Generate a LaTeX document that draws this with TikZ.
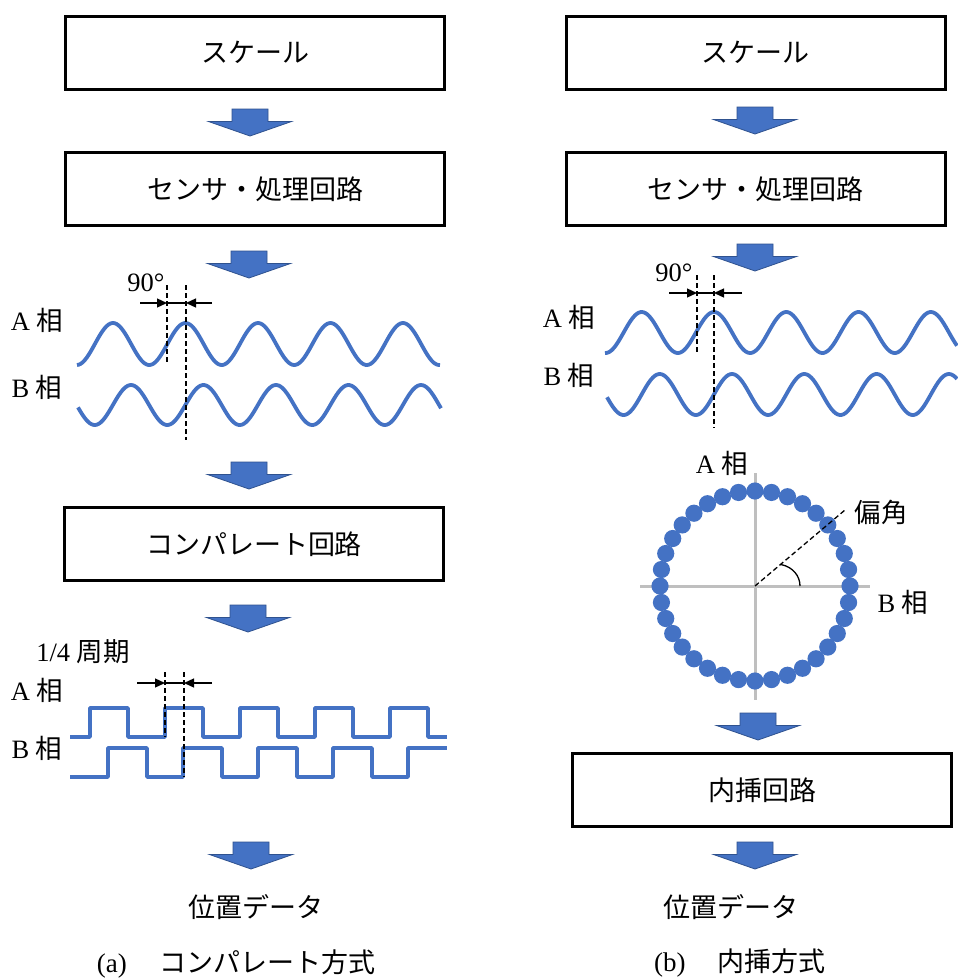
\documentclass[tikz,border=0pt]{standalone}
\usepackage{fontspec}
\setmainfont{Liberation Serif}
\newfontfamily\jp{Noto Sans CJK JP}
\usetikzlibrary{arrows.meta}
\definecolor{wblue}{RGB}{68,114,196}
\definecolor{wdark}{RGB}{47,82,143}
\definecolor{axgray}{RGB}{191,191,191}
\newcommand\barrow[3]{% name, cx, top
  \fill[wblue, draw=wdark, line width=0.8] ({#2-18},{#3}) -- ({#2+18},{#3}) -- ({#2+18},{#3+12.5}) -- ({#2+41.5},{#3+12.5}) -- ({#2},{#3+27}) -- ({#2-41.5},{#3+12.5}) -- ({#2-18},{#3+12.5}) -- cycle;
  \coordinate (#1) at ({#2},{#3});}
\begin{document}
\begin{tikzpicture}[x=1pt,y=-1pt,
  box/.style={draw, line width=3, minimum width=379, minimum height=73, inner sep=0, font=\fontsize{27}{30}\selectfont\jp},
  lbl/.style={inner sep=0, font=\fontsize{26.5}{28}\selectfont},
  jtxt/.style={inner sep=0, font=\fontsize{27}{30}\selectfont\jp},
  wave/.style={wblue, line width=3.8, line join=round},
  dsh/.style={line width=1.3, dash pattern=on 5 off 3},
  dim/.style={line width=1.3, -{Triangle[length=10,width=9]}}]
\useasboundingbox (0,0) rectangle (958,978);
\fill[white] (0,0) rectangle (958,978);

% ---------------- left column ----------------
\node[box] (L1) at (255,52.5) {スケール};
\barrow{aL1}{250}{109}
\node[box] (L2) at (255,189) {センサ・処理回路};
\barrow{aL2}{249}{251}

\node[lbl] (LA) at (37,320) {A {\jp 相}};
\node[lbl] (LB) at (37,387) {B {\jp 相}};
\node[lbl] (L90) at (146,283) {90°};
\draw[wave] plot[domain=77:440, samples=220] (\x, {344-21*cos((\x-113)/72.5*360)});
\draw[wave] plot[domain=78:441, samples=220] (\x, {405-20*cos((\x-131)/72.5*360)});
\draw[dsh] (167,285) -- (167,363);
\draw[dsh] (186,285) -- (186,440);
\coordinate (d1a) at (140,303); \coordinate (d1b) at (167,303);
\coordinate (d1c) at (186,303); \coordinate (d1d) at (212,303);
\draw[dim] (d1a) -- (d1b);
\draw[dim] (d1d) -- (d1c);
\draw[line width=1.3] (d1b) -- (d1c);

\barrow{aL3}{249}{462}
\node[box] (L3) at (254,544) {コンパレート回路};
\barrow{aL4}{248}{605}

\node[lbl] (Lq) at (83,652) {1/4 {\jp 周期}};
\node[lbl] (LA2) at (37,690) {A {\jp 相}};
\node[lbl] (LB2) at (37,748) {B {\jp 相}};
\draw[wave] (70,737)
  \foreach \k in {0,...,4} { -- ({90+75*\k},737) -- ({90+75*\k},708) -- ({128+75*\k},708) -- ({128+75*\k},737) }
  -- (447,737);
\draw[wave] (70,777)
  \foreach \k in {0,...,3} { -- ({108+75*\k},777) -- ({108+75*\k},748) -- ({147+75*\k},748) -- ({147+75*\k},777) }
  -- (408,777) -- (408,748) -- (447,748);
\draw[dsh] (165,672) -- (165,737);
\draw[dsh] (184,672) -- (184,777);
\coordinate (d2a) at (137,683); \coordinate (d2b) at (165,683);
\coordinate (d2c) at (184,683); \coordinate (d2d) at (212,683);
\draw[dim] (d2a) -- (d2b);
\draw[dim] (d2d) -- (d2c);
\draw[line width=1.3] (d2b) -- (d2c);

\barrow{aL5}{251}{842}
\node[jtxt] (Lpos) at (255.5,907) {位置データ};
\node[inner sep=0, font=\fontsize{27}{30}\selectfont] (Lcap) at (236,964) {(a)\hspace{1.2em}{\jp コンパレート方式}};

% ---------------- right column ----------------
\node[box] (R1) at (755.5,52.5) {スケール};
\barrow{aR1}{755}{107}
\node[box] (R2) at (755.5,189) {センサ・処理回路};
\barrow{aR2}{755}{244}

\node[lbl] (RA) at (569,317) {A {\jp 相}};
\node[lbl] (RB) at (569,375) {B {\jp 相}};
\node[lbl] (R90) at (674,273) {90°};
\draw[wave] plot[domain=605:957, samples=220] (\x, {332.5-20.5*cos((\x-714)/72.3*360)});
\draw[wave] plot[domain=607:957, samples=220] (\x, {394.5-20.5*cos((\x-732)/72.3*360)});
\draw[dsh] (697,275) -- (697,353);
\draw[dsh] (714,275) -- (714,428);
\coordinate (d3a) at (669,293); \coordinate (d3b) at (697,293);
\coordinate (d3c) at (714,293); \coordinate (d3d) at (742,293);
\draw[dim] (d3a) -- (d3b);
\draw[dim] (d3d) -- (d3c);
\draw[line width=1.3] (d3b) -- (d3c);

% Lissajous circle
\coordinate (O) at (755,586);
\draw[axgray, line width=3] (640,586) -- (870,586);
\draw[axgray, line width=3] (755,473) -- (755,700);
\foreach \a in {0,10,...,350}
  \fill[wblue] ({755+95*cos(\a)},{586-95*sin(\a)}) circle[radius=8.6];
\coordinate (pe) at (845,510);
\draw[dsh] (O) -- (pe);
\draw[line width=1.3] (781,564.5) .. controls (793,567) and (800,576) .. (800,586);
\node[lbl] (RA3) at (722,463) {A {\jp 相}};
\node[lbl] (RB3) at (903,602) {B {\jp 相}};
\node[lbl] (Rang) at (881,512) {\jp 偏角};

\barrow{aR3}{758}{713}
\node[box] (R3) at (762,790) {内挿回路};
\barrow{aR4}{755}{842}
\node[jtxt] (Rpos) at (731,907) {位置データ};
\node[inner sep=0, font=\fontsize{27}{30}\selectfont] (Rcap) at (740,963) {(b)\hspace{1.2em}{\jp 内挿方式}};
\end{tikzpicture}
\end{document}
